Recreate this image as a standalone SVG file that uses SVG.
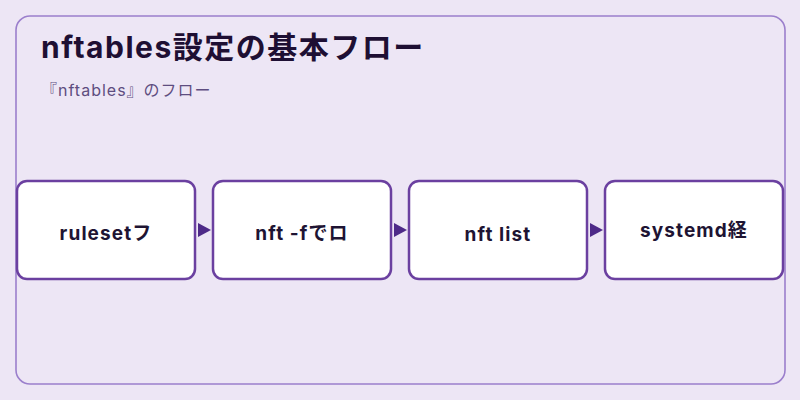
<svg xmlns="http://www.w3.org/2000/svg" width="800" height="400" viewBox="0 0 800 400">
<style>
.node rect{fill:#ffffff;stroke:#6b40a0;stroke-width:2.5}
.node text{font-family:Inter,"Noto Sans CJK JP",sans-serif;font-size:19px;font-weight:700;fill:#1e1433;text-anchor:middle;letter-spacing:1.1px}
.arrow{fill:#4e2a88}
</style>
<rect x="0" y="0" width="800" height="400" fill="#ede6f5"/>
<rect x="16" y="16" width="769" height="368" rx="14" fill="#ede6f5" stroke="#9b7fcc" stroke-width="1.6"/>
<text x="41" y="58" font-family="Inter,'Noto Sans CJK JP',sans-serif" font-size="30" font-weight="700" letter-spacing="1.5" fill="#1e0f33">nftables設定の基本フロー</text>
<text x="41" y="96" font-family="Inter,'Noto Sans CJK JP',sans-serif" font-size="16" letter-spacing="1" fill="#5e4d80">『nftables』のフロー</text>
<g id="connectors">
<polygon class="arrow" points="198,223 211,230 198,237"/>
<polygon class="arrow" points="394,223 407,230 394,237"/>
<polygon class="arrow" points="590,223 603,230 590,237"/>
</g>
<g id="node1" class="node"><rect x="17" y="181" width="178" height="98" rx="10"/><text x="106" y="240">rulesetフ</text></g>
<g id="node2" class="node"><rect x="213" y="181" width="178" height="98" rx="10"/><text x="302" y="240">nft -fでロ</text></g>
<g id="node3" class="node"><rect x="409" y="181" width="178" height="98" rx="10"/><text x="498" y="241">nft list</text></g>
<g id="node4" class="node"><rect x="605" y="181" width="178" height="98" rx="10"/><text x="694" y="237">systemd経</text></g>
</svg>
